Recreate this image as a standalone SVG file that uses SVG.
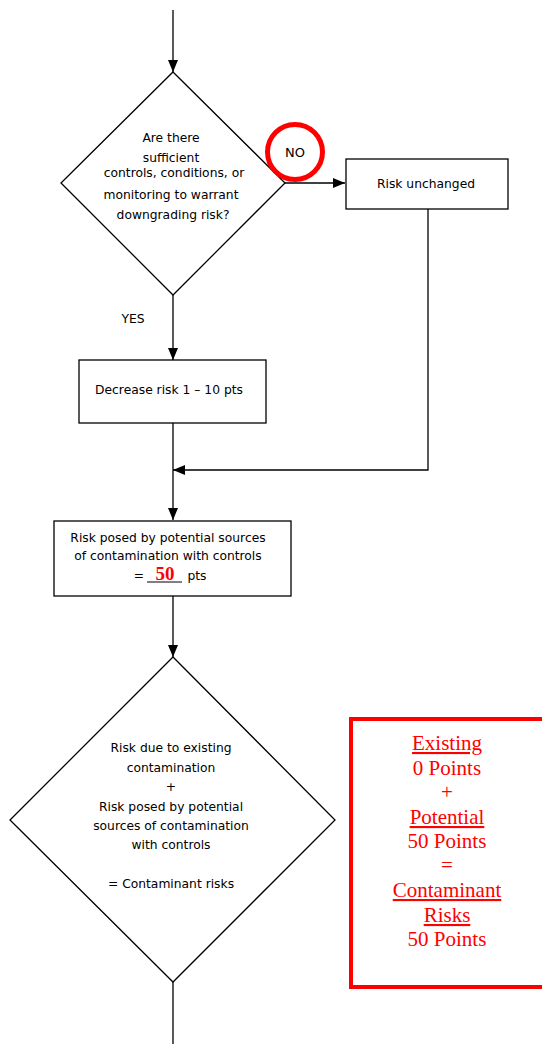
<svg xmlns="http://www.w3.org/2000/svg" width="542" height="1044" viewBox="0 0 542 1044">
<style>
.shape{fill:#fff;stroke:#000;stroke-width:1.3}
.t{font-family:"DejaVu Sans","Liberation Sans",sans-serif;font-size:12.3px;fill:#000;text-anchor:middle}
.r{font-family:"Liberation Serif","Times New Roman",serif;font-size:21px;fill:#f00;text-anchor:middle}
.c{fill:none;stroke:#000;stroke-width:1.3}
</style>
<defs>
<marker id="ah" viewBox="0 0 12 10" refX="12" refY="5" markerWidth="12" markerHeight="10" markerUnits="userSpaceOnUse" orient="auto">
<path d="M0,0 L12,5 L0,10 Z" fill="#000"/>
</marker>
</defs>
<g id="connectors">
<line class="c" x1="173" y1="10" x2="173" y2="72" marker-end="url(#ah)"/>
<line class="c" x1="284" y1="183" x2="345" y2="183" marker-end="url(#ah)"/>
<line class="c" x1="173" y1="295" x2="173" y2="360" marker-end="url(#ah)"/>
<polyline class="c" points="428,209 428,470 173,470" marker-end="url(#ah)"/>
<line class="c" x1="173" y1="423" x2="173" y2="520" marker-end="url(#ah)"/>
<line class="c" x1="173" y1="596" x2="173" y2="657" marker-end="url(#ah)"/>
<line class="c" x1="173" y1="982" x2="173" y2="1044"/>
</g>
<g id="decision1">
<polygon class="shape" points="173,72 285,183 173,295 61,183"/>
<text class="t" x="171" y="142">Are there</text>
<text class="t" x="171" y="162">sufficient</text>
<text class="t" x="174" y="177">controls, conditions, or</text>
<text class="t" x="171" y="199">monitoring to warrant</text>
<text class="t" x="173" y="219">downgrading risk?</text>
</g>
<g id="no-label">
<circle cx="295" cy="152" r="27.5" fill="#fff" stroke="#f00" stroke-width="5"/>
<text class="t" x="295" y="157" style="font-size:13px">NO</text>
</g>
<g id="risk-unchanged">
<rect class="shape" x="346" y="159" width="162" height="50"/>
<text class="t" x="426" y="188">Risk unchanged</text>
</g>
<g id="yes-label">
<text class="t" x="133" y="323">YES</text>
</g>
<g id="decrease">
<rect class="shape" x="79" y="360" width="187" height="63"/>
<text class="t" x="169" y="394">Decrease risk 1 – 10 pts</text>
</g>
<g id="risk-posed">
<rect class="shape" x="54" y="521" width="237" height="75"/>
<text class="t" x="168" y="542">Risk posed by potential sources</text>
<text class="t" x="168" y="560">of contamination with controls</text>
<text class="t" x="139" y="580">=</text>
<line x1="147" y1="582" x2="182" y2="582" stroke="#000" stroke-width="1"/>
<text x="165" y="580" style="font-family:'Liberation Serif',serif;font-size:19px;font-weight:bold;fill:#f00;text-anchor:middle">50</text>
<text class="t" x="197" y="580">pts</text>
</g>
<g id="decision2">
<polygon class="shape" points="173,657 335,820 173,982 10,820"/>
<text class="t" x="171" y="752">Risk due to existing</text>
<text class="t" x="171" y="772">contamination</text>
<text class="t" x="171" y="791">+</text>
<text class="t" x="171" y="811">Risk posed by potential</text>
<text class="t" x="171" y="830">sources of contamination</text>
<text class="t" x="171" y="849">with controls</text>
<text class="t" x="171" y="888">= Contaminant risks</text>
</g>
<g id="summary">
<rect x="351" y="719" width="195" height="268" fill="#fff" stroke="#f00" stroke-width="4"/>
<text class="r" x="447" y="750" text-decoration="underline">Existing</text>
<text class="r" x="447" y="775">0 Points</text>
<text class="r" x="447" y="799">+</text>
<text class="r" x="447" y="824" text-decoration="underline">Potential</text>
<text class="r" x="447" y="848">50 Points</text>
<text class="r" x="447" y="872">=</text>
<text class="r" x="447" y="897" text-decoration="underline">Contaminant</text>
<text class="r" x="447" y="922" text-decoration="underline">Risks</text>
<text class="r" x="447" y="946">50 Points</text>
</g>
</svg>
